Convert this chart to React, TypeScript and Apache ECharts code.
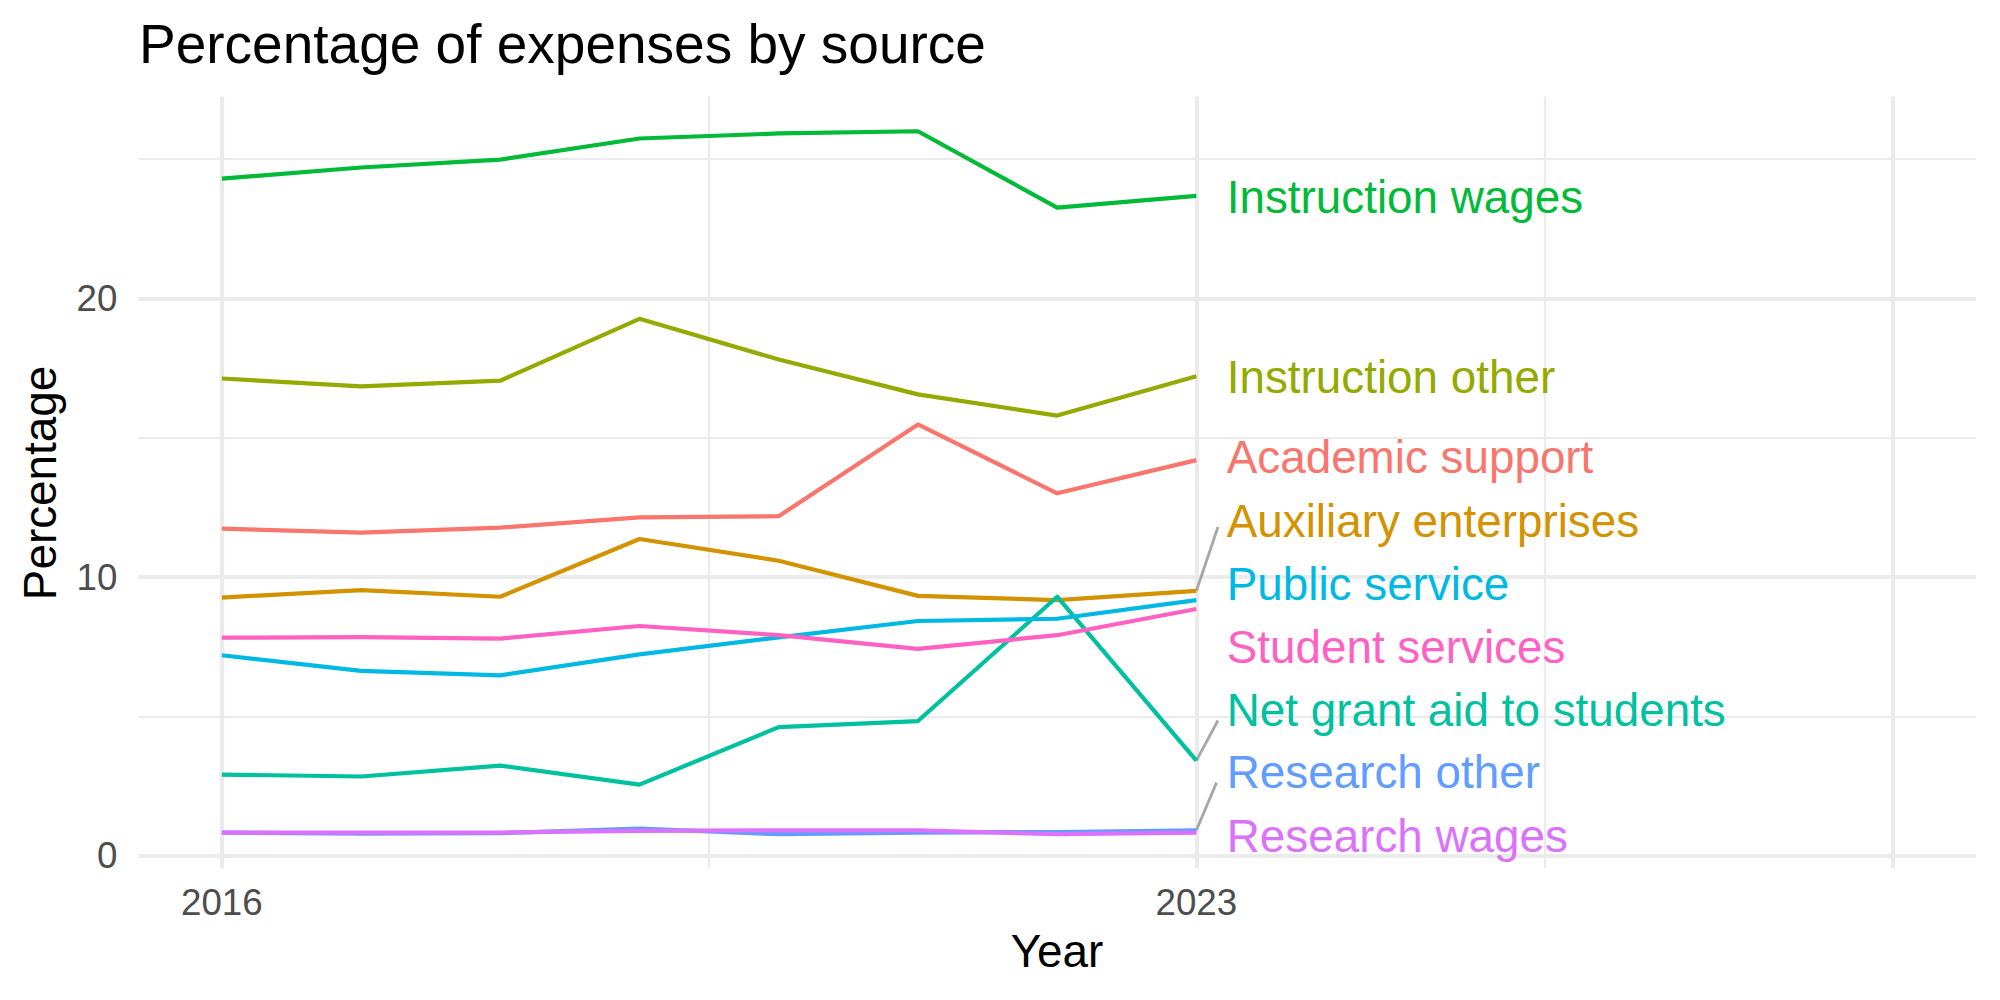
import React, { useEffect, useRef } from "react";
import * as echarts from "echarts";

// Years on the x axis
const years = [2016, 2017, 2018, 2019, 2020, 2021, 2022, 2023];

// Percentage of expenses for each source, one value per year
const academicSupport = [11.74, 11.6, 11.78, 12.15, 12.19, 15.48, 13.01, 14.2];
const auxiliaryEnterprises = [9.27, 9.54, 9.3, 11.37, 10.59, 9.33, 9.18, 9.51];
const instructionOther = [17.13, 16.85, 17.05, 19.27, 17.81, 16.56, 15.8, 17.21];
const instructionWages = [24.3, 24.7, 24.98, 25.74, 25.92, 26.0, 23.26, 23.68];
const netGrantAid = [2.92, 2.85, 3.24, 2.56, 4.62, 4.84, 9.3, 3.42];
const publicService = [7.2, 6.64, 6.48, 7.23, 7.84, 8.43, 8.51, 9.18];
const researchOther = [0.84, 0.8, 0.82, 0.98, 0.78, 0.84, 0.86, 0.92];
const researchWages = [0.84, 0.84, 0.84, 0.9, 0.92, 0.92, 0.78, 0.84];
const studentServices = [7.83, 7.85, 7.8, 8.25, 7.92, 7.43, 7.92, 8.86];

// Series names in drawing order, with their hue colours
const sourceNames = [
  "Academic support",
  "Auxiliary enterprises",
  "Instruction other",
  "Instruction wages",
  "Net grant aid to students",
  "Public service",
  "Research other",
  "Research wages",
  "Student services",
];
const sourceValues = [
  academicSupport,
  auxiliaryEnterprises,
  instructionOther,
  instructionWages,
  netGrantAid,
  publicService,
  researchOther,
  researchWages,
  studentServices,
];
const sourceColors = [
  "#F8766D",
  "#D39200",
  "#93AA00",
  "#00BA38",
  "#00C19F",
  "#00B9E3",
  "#619CFF",
  "#DB72FB",
  "#FF61C3",
];

// Where each end label sits (after being pushed apart so they do not overlap)
const labelX = 2023.218;
const labelY = [14.28, 11.99, 17.15, 23.62, 5.22, 9.74, 2.98, 0.69, 7.48];

// Leader segments from a line's last point to its moved label: [series index, toX, toY]
const leaderSegments: [number, number, number][] = [
  [1, 2023.155, 11.8],
  [4, 2023.155, 4.86],
  [6, 2023.145, 2.63],
];

// Axis ticks and grid lines
const xTickLabels = [2016, 2023];
const yTickLabels = [0, 10, 20];
const xMajorGrid = [2016, 2023, 2028];
const xMinorGrid = [2019.5, 2025.5];
const yMajorGrid = [0, 10, 20];
const yMinorGrid = [5, 15, 25];

const FONT = "'Liberation Sans', Arial, Helvetica, sans-serif";
const GRID_COLOR = "#EBEBEB";

export default function App() {
  const ref = useRef<HTMLDivElement>(null);

  useEffect(() => {
    if (!ref.current) return;
    const chart = echarts.init(ref.current, undefined, { renderer: "svg" });

    const gridLines = [
      ...xMajorGrid.map((v) => ({ xAxis: v, lineStyle: { width: 4.2 } })),
      ...xMinorGrid.map((v) => ({ xAxis: v, lineStyle: { width: 2.2 } })),
      ...yMajorGrid.map((v) => ({ yAxis: v, lineStyle: { width: 4.2 } })),
      ...yMinorGrid.map((v) => ({ yAxis: v, lineStyle: { width: 2.2 } })),
    ];

    const lineSeries = sourceNames.map((name, i) => ({
      type: "line",
      name,
      data: years.map((y, j) => [y, sourceValues[i][j]]),
      showSymbol: false,
      symbol: "none",
      silent: true,
      z: 3,
      lineStyle: { color: sourceColors[i], width: 4.2, join: "round" },
    }));

    const segmentSeries = leaderSegments.map(([idx, tx, ty]) => ({
      type: "line",
      data: [
        [2023, sourceValues[idx][sourceValues[idx].length - 1]],
        [tx, ty],
      ],
      showSymbol: false,
      symbol: "none",
      silent: true,
      z: 2,
      lineStyle: { color: "#A6A6A6", width: 2.8 },
    }));

    // Text labels at the right end of each line, drawn as plain coloured text
    const labelSeries = {
      type: "scatter",
      symbolSize: 0.1,
      silent: true,
      z: 4,
      itemStyle: { color: "rgba(0,0,0,0)", opacity: 1 },
      data: sourceNames.map((name, i) => ({
        name,
        value: [labelX, labelY[i]],
        label: {
          show: true,
          position: "right",
          distance: 0,
          formatter: name,
          color: sourceColors[i],
          opacity: 1,
          textBorderWidth: 0,
          textBorderColor: "transparent",
          fontSize: 45.8,
          fontFamily: FONT,
          verticalAlign: "middle",
        },
      })),
    };

    chart.setOption({
      animation: false,
      grid: { left: 138.3, right: 24, top: 96.4, bottom: 131.5 },
      xAxis: {
        type: "value",
        min: 2015.4,
        max: 2028.6,
        axisLine: { show: false },
        axisTick: { show: false },
        splitLine: { show: false },
        axisLabel: {
          customValues: xTickLabels,
          color: "#4D4D4D",
          fontSize: 36.7,
          fontFamily: FONT,
          margin: 15,
          formatter: (v: number) => String(v),
        },
      },
      yAxis: {
        type: "value",
        min: -0.45,
        max: 27.25,
        axisLine: { show: false },
        axisTick: { show: false },
        splitLine: { show: false },
        axisLabel: {
          customValues: yTickLabels,
          color: "#4D4D4D",
          fontSize: 36.7,
          fontFamily: FONT,
          margin: 21,
          formatter: (v: number) => String(v),
        },
      },
      graphic: [
        {
          type: "text",
          x: 139,
          y: 44,
          style: {
            text: "Percentage of expenses by source",
            fontSize: 55,
            fontFamily: FONT,
            fill: "#000000",
            align: "left",
            verticalAlign: "middle",
          },
        },
        {
          type: "text",
          x: 1057,
          y: 951,
          style: {
            text: "Year",
            fontSize: 45.8,
            fontFamily: FONT,
            fill: "#000000",
            align: "center",
            verticalAlign: "middle",
          },
        },
        {
          type: "text",
          x: 40,
          y: 483,
          rotation: Math.PI / 2,
          style: {
            text: "Percentage",
            fontSize: 45.8,
            fontFamily: FONT,
            fill: "#000000",
            align: "center",
            verticalAlign: "middle",
          },
        },
      ],
      series: [
        {
          type: "line",
          data: [],
          silent: true,
          z: 0,
          markLine: {
            silent: true,
            z: 0,
            symbol: ["none", "none"],
            label: { show: false },
            lineStyle: { color: GRID_COLOR, type: "solid" },
            data: gridLines,
          },
        },
        ...segmentSeries,
        ...lineSeries,
        labelSeries,
      ],
    });

    return () => chart.dispose();
  }, []);

  return (
    <div
      ref={ref}
      style={{ position: "fixed", left: 0, top: 0, width: 2000, height: 1000, background: "#FFFFFF" }}
    />
  );
}
